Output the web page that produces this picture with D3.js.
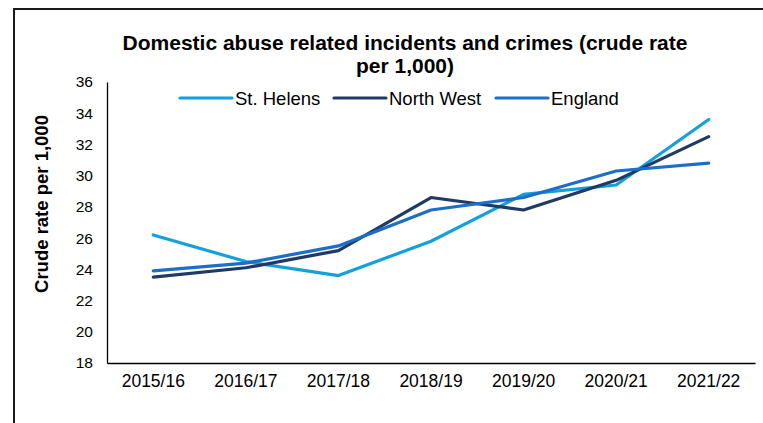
<!DOCTYPE html>
<html>
<head>
<meta charset="utf-8">
<script src="https://cdn.jsdelivr.net/npm/d3@7"></script>
<style>
  html, body { margin: 0; padding: 0; background: #fff; }
  svg { display: block; font-family: "Liberation Sans", Arial, sans-serif; }
</style>
</head>
<body>
<svg id="chart" width="763" height="423"></svg>
<script>
// Financial years shown along the x axis
const years = ["2015/16", "2016/17", "2017/18", "2018/19", "2019/20", "2020/21", "2021/22"];

// Crude rate per 1,000 population
const stHelens  = [26.2, 24.5, 23.6, 25.8, 28.8, 29.4, 33.6];
const northWest = [23.5, 24.1, 25.2, 28.6, 27.8, 29.7, 32.5];
const england   = [23.9, 24.4, 25.5, 27.8, 28.6, 30.3, 30.8];

const yTicks = [18, 20, 22, 24, 26, 28, 30, 32, 34, 36];

const seriesNames  = ["St. Helens", "North West", "England"];
const seriesColors = ["#13a0db", "#1f3a64", "#1d6ec8"];
const seriesData   = [stHelens, northWest, england];

const FONT = "'Liberation Sans', Arial, sans-serif";
const svg = d3.select("#chart");

// Outer chart frame
svg.append("rect")
  .attr("x", 14).attr("y", 9)
  .attr("width", 780).attr("height", 440)
  .attr("fill", "none").attr("stroke", "#1a1a1a").attr("stroke-width", 2);

const plot = { left: 107, right: 755, top: 82, bottom: 363 };

const x = d3.scaleBand().domain(years).range([plot.left, plot.right]);
const y = d3.scaleLinear().domain([18, 36]).range([plot.bottom, plot.top]);

// Title
const title = svg.append("text")
  .attr("text-anchor", "middle")
  .attr("font-weight", "bold")
  .attr("font-size", 21)
  .attr("fill", "#000");
title.append("tspan").attr("x", 405).attr("y", 50)
  .text("Domestic abuse related incidents and crimes (crude rate");
title.append("tspan").attr("x", 405).attr("y", 73)
  .text("per 1,000)");

// Y axis
const yAxis = svg.append("g")
  .attr("transform", `translate(${plot.left},0)`)
  .call(d3.axisLeft(y).tickValues(yTicks).tickSize(0).tickPadding(14));
yAxis.select(".domain").attr("stroke", "#000").attr("stroke-width", 1.3);
yAxis.selectAll("text").attr("font-size", 15.5).attr("fill", "#000")
  .attr("font-family", FONT);

// X axis
const xAxis = svg.append("g")
  .attr("transform", `translate(0,${plot.bottom})`)
  .call(d3.axisBottom(x).tickSize(0).tickPadding(12));
xAxis.select(".domain").attr("stroke", "#000").attr("stroke-width", 1.3);
xAxis.selectAll("text").attr("font-size", 17.5).attr("fill", "#000")
  .attr("font-family", FONT);

// Y axis label
svg.append("text")
  .attr("transform", "translate(48,204) rotate(-90)")
  .attr("text-anchor", "middle")
  .attr("font-weight", "bold")
  .attr("font-size", 18.5)
  .text("Crude rate per 1,000");

// Lines
const line = d3.line()
  .x((d, i) => x(years[i]) + x.bandwidth() / 2)
  .y(d => y(d));

seriesData.forEach((vals, k) => {
  svg.append("path")
    .datum(vals)
    .attr("fill", "none")
    .attr("stroke", seriesColors[k])
    .attr("stroke-width", 3.2)
    .attr("stroke-linejoin", "round")
    .attr("stroke-linecap", "round")
    .attr("d", line);
});

// Legend
const legendItems = [
  { x: 180, label: seriesNames[0], color: seriesColors[0] },
  { x: 334, label: seriesNames[1], color: seriesColors[1] },
  { x: 496, label: seriesNames[2], color: seriesColors[2] }
];
const legend = svg.append("g");
legendItems.forEach(it => {
  legend.append("line")
    .attr("x1", it.x).attr("x2", it.x + 52)
    .attr("y1", 98).attr("y2", 98)
    .attr("stroke", it.color).attr("stroke-width", 3.2)
    .attr("stroke-linecap", "round");
  legend.append("text")
    .attr("x", it.x + 55).attr("y", 104.5)
    .attr("font-size", 18.5)
    .attr("fill", "#000")
    .text(it.label);
});
</script>
</body>
</html>
